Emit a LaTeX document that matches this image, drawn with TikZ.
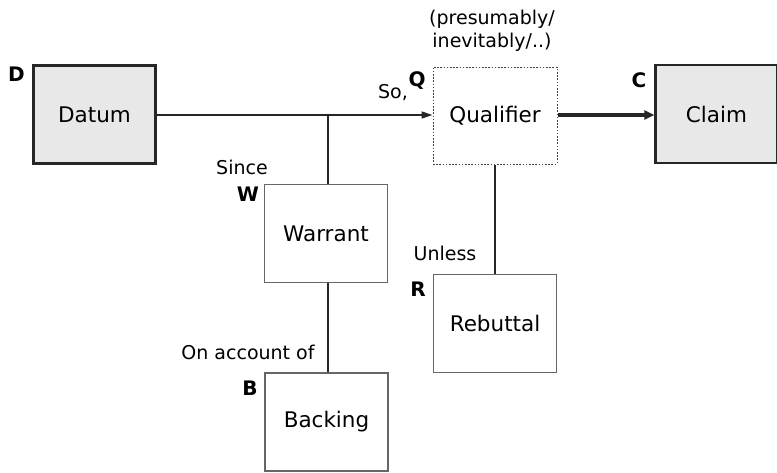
\documentclass[tikz,border=0pt]{standalone}
\usepackage{fontspec}
\setmainfont{DejaVu Sans}
\usetikzlibrary{arrows.meta}
\definecolor{boxgray}{HTML}{E8E8E8}
\definecolor{edgegray}{HTML}{666666}
\tikzset{
  mainbox/.style={draw=black!85, line width=2.2pt, fill=boxgray, minimum width=122pt, minimum height=98pt, inner sep=0pt, font=\fontsize{21.5}{26}\selectfont},
  plainbox/.style={draw=edgegray, line width=1.3pt, fill=white, minimum width=123pt, minimum height=98pt, inner sep=0pt, font=\fontsize{21.5}{26}\selectfont},
  dotbox/.style={draw=black!75, line width=1pt, dash pattern=on 1.6pt off 1.6pt, minimum width=124pt, minimum height=97pt, inner sep=0pt, font=\fontsize{21.5}{26}\selectfont},
  letter/.style={font=\fontsize{20}{24}\selectfont\bfseries, inner sep=0pt},
  cue/.style={font=\fontsize{19}{23}\selectfont, inner sep=0pt},
  conn/.style={line width=1.6pt, draw=black!85},
}
\begin{document}
\begin{tikzpicture}[x=1pt,y=-1pt]
\useasboundingbox (0,0) rectangle (777,472);
\node[mainbox] (datum) at (94.5,114.5) {Datum};
\node[dotbox] (qual) at (495,115.5) {Qualifier};
\node[mainbox] (claim) at (716.5,114) {Claim};
\node[plainbox] (warrant) at (326,233.5) {Warrant};
\node[plainbox] (rebuttal) at (495,323.5) {Rebuttal};
\node[plainbox] (backing) at (326.5,422) {Backing};
% letters
\node[letter] (lD) at (16.5,74) {D};
\node[letter] (lQ) at (417,81) {Q};
\node[letter] (lC) at (639,80) {C};
\node[letter] (lW) at (248,194) {W};
\node[letter] (lR) at (418,289) {R};
\node[letter] (lB) at (250,388) {B};
% cues
\node[cue] (so) at (393,93) {So,};
\node[cue, align=center, font=\fontsize{19}{23.5}\selectfont] (pres) at (492,31) {(presumably/\\inevitably/..)};
\node[cue] (since) at (242,167) {Since};
\node[cue] (unless) at (445,253) {Unless};
\node[cue] (onacc) at (248,352) {On account of};
% connectors
\coordinate (hl) at (0,115);
\draw[conn, -{Triangle[length=11pt,width=7pt]}] (datum.east |- hl) -- (qual.west |- hl);
\draw[line width=3.2pt, black!85, -{Triangle[length=10pt,width=9pt]}] (qual.east |- hl) -- (claim.west |- hl);
\coordinate (wj) at (328,115);
\draw[conn] (wj) -- (wj |- warrant.north);
\draw[conn] (wj |- warrant.south) -- (wj |- backing.north);
\draw[conn] (qual.south) -- (rebuttal.north);
\end{tikzpicture}
\end{document}
